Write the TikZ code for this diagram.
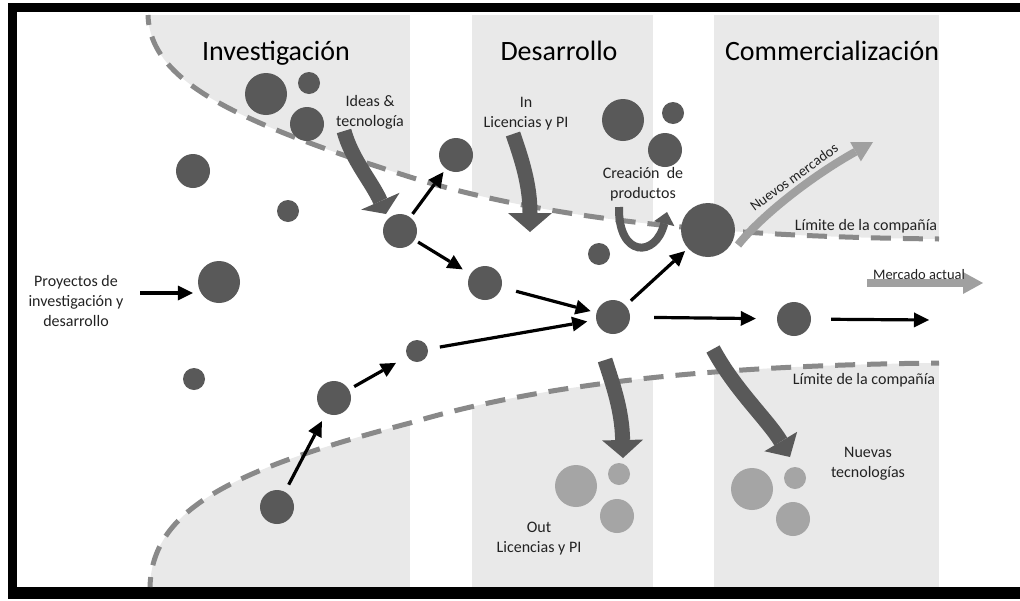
\documentclass[tikz,border=0pt]{standalone}
\usepackage{fontspec}
\setmainfont{Carlito}
\usetikzlibrary{arrows.meta}

\definecolor{colfill}{HTML}{E9E9E9}
\definecolor{dot}{HTML}{595959}
\definecolor{dotlight}{HTML}{A5A5A5}
\definecolor{boundary}{HTML}{898989}
\definecolor{txt}{HTML}{222222}
\definecolor{market}{HTML}{A0A0A0}

\begin{document}
\begin{tikzpicture}[x=1pt,y=-1pt,
  dotnode/.style={circle,fill=dot,inner sep=0pt,minimum size=#1},
  lightdot/.style={circle,fill=dotlight,inner sep=0pt,minimum size=#1},
  flow/.style={line width=3.2pt,black,-{Triangle[length=15pt,width=15pt,line width=0pt]}},
  bigarrow/.style={line width=15pt,dot},
  thinarrow/.style={line width=8pt,color=#1},
  limit/.style={boundary,line width=5pt,dash pattern=on 20pt off 12pt},
  title/.style={font=\fontsize{28}{32}\selectfont,anchor=base},
  label/.style={font=\fontsize{16}{20}\selectfont,text=txt,align=center,inner sep=1pt},
  small/.style={font=\fontsize{14.5}{17}\selectfont,text=txt,inner sep=1pt}
]
\useasboundingbox (0,0) rectangle (1020,600);

% outer frame (open on the right)
\fill[black] (8,3) rectangle (1020,12);
\fill[black] (8,3) rectangle (17,599);
\fill[black] (8,587) rectangle (1020,599);

% shaded phase columns, outside the company boundary only
\begin{scope}
  \clip (148,15) .. controls (150,80) and (230,120) .. (410,177)
        .. controls (560,224) and (750,237) .. (939,239) -- (939,15) -- cycle;
  \fill[colfill] (148,15) rectangle (410,587);
  \fill[colfill] (472,15) rectangle (653,587);
  \fill[colfill] (714,15) rectangle (939,587);
\end{scope}
\begin{scope}
  \clip (150,587) .. controls (152,510) and (230,470) .. (410,423)
        .. controls (560,378) and (750,365) .. (939,363) -- (939,587) -- cycle;
  \fill[colfill] (148,15) rectangle (410,587);
  \fill[colfill] (472,15) rectangle (653,587);
  \fill[colfill] (714,15) rectangle (939,587);
\end{scope}

% company boundary
\draw[limit,dash phase=10pt] (148,15) .. controls (150,80) and (230,120) .. (410,177)
      .. controls (560,224) and (750,237) .. (939,239);
\draw[limit,dash phase=10pt] (150,587) .. controls (152,510) and (230,470) .. (410,423)
      .. controls (560,378) and (750,365) .. (939,363);

% phase titles
\node[title] (tinv) at (276,60) {Investigación};
\node[title] (tdes) at (559,60) {Desarrollo};
\node[title] (tcom) at (832,60) {Commercialización};

% projects
\node[dotnode=42pt] (a1) at (266,94) {};
\node[dotnode=22pt] (a2) at (309,83) {};
\node[dotnode=34pt] (a3) at (307,124) {};
\node[dotnode=34pt] (b1) at (193,171) {};
\node[dotnode=22pt] (b2) at (288,211) {};
\node[dotnode=34pt] (n1) at (400,231) {};
\node[dotnode=34pt] (n2) at (456,155) {};
\node[dotnode=34pt] (n3) at (485,283) {};
\node[dotnode=42pt] (p0) at (219,282) {};
\node[dotnode=42pt] (d1) at (623,120) {};
\node[dotnode=22pt] (d2) at (673,113) {};
\node[dotnode=34pt] (d3) at (665,150) {};
\node[dotnode=22pt] (d4) at (599,254) {};
\node[dotnode=22pt] (b3) at (194,379) {};
\node[dotnode=22pt] (m3) at (417,351) {};
\node[dotnode=34pt] (m2) at (334,398) {};
\node[dotnode=34pt] (m1) at (277,507) {};
\node[dotnode=34pt] (hub) at (613,317) {};
\node[dotnode=34pt] (c1) at (794,319) {};

% licensed-out and new technologies
\node[lightdot=42pt] (o1) at (576,486) {};
\node[lightdot=22pt] (o2) at (619,474) {};
\node[lightdot=34pt] (o3) at (617,516) {};
\node[lightdot=42pt] (t1) at (752,489) {};
\node[lightdot=22pt] (t2) at (795,478) {};
\node[lightdot=34pt] (t3) at (793,519) {};

% broad flows across the boundary
\coordinate (ia) at (344,131);
\coordinate (ib) at (386,214);
\draw[bigarrow,-{Triangle[length=14pt,width=42pt,line width=0pt]}]
  (ia) .. controls (352,160) and (372,182) .. (ib);
\coordinate (la) at (513,134);
\coordinate (lb) at (530,232);
\draw[bigarrow,-{Triangle[length=19pt,width=44pt,line width=0pt]}]
  (la) .. controls (522,160) and (530,185) .. (lb);
\coordinate (oa) at (605,360);
\coordinate (ob) at (623,458);
\draw[bigarrow,-{Triangle[length=18pt,width=41pt,line width=0pt]}]
  (oa) .. controls (613,385) and (622,410) .. (ob);
\coordinate (ta) at (713,349);
\coordinate (tb) at (790,457);
\draw[bigarrow,-{Triangle[length=18pt,width=38pt,line width=0pt]}]
  (ta) .. controls (735,390) and (768,420) .. (tb);
\coordinate (ca) at (619,207);
\coordinate (cb) at (667,212);
\draw[line width=8pt,dot,-{Triangle[length=12pt,width=21pt,line width=0pt]}]
  (ca) .. controls (618,258) and (656,258) .. (cb);

\node[dotnode=54pt] (big) at (708,230) {};

% market arrows
\coordinate (ma) at (738,245);
\coordinate (mb) at (873,142);
\draw[thinarrow=market,-{Triangle[length=20pt,width=22pt,line width=0pt]}]
  (ma) .. controls (762,215) and (812,176) .. (mb);
\coordinate (xa) at (867,283);
\coordinate (xb) at (983,283);
\draw[thinarrow=market,-{Triangle[length=20pt,width=22pt,line width=0pt]}] (xa) -- (xb);

% project flow
\node[label] (proy) at (76,301) {Proyectos de\\investigación y\\desarrollo};
\coordinate (pin) at (140,293);
\draw[flow,shorten >=5pt] (pin) -- (pin -| p0.west);
\draw[flow,shorten <=4pt,shorten >=4pt] (n1) -- (n2);
\draw[flow,shorten <=4pt,shorten >=9pt] (n1) -- (n3);
\draw[flow,shorten <=15pt,shorten >=6pt] (n3) -- (hub);
\draw[flow,shorten <=12pt,shorten >=9pt] (m3) -- (hub);
\draw[flow,shorten <=8pt,shorten >=9pt] (m1) -- (m2);
\draw[flow,shorten <=6pt,shorten >=13pt] (m2) -- (m3);
\draw[flow,shorten <=7pt,shorten >=4pt] (hub) -- (big);
\draw[flow,shorten <=24pt,shorten >=21pt] (hub) -- (c1);
\coordinate (outR) at (929,320);
\draw[flow,shorten <=20pt] (c1) -- (outR);

% labels
\node[label] (lideas) at (370,112) {Ideas \&\\tecnología};
\node[label] (lin) at (526,114) {In\\Licencias y PI};
\node[label] (lcrea) at (643,184) {Creación\ \ de\\productos};
\node[label] (lout) at (539,539) {Out\\Licencias y PI};
\node[label] (lnue) at (868,464) {Nuevas\\tecnologías};
\node[label] (lim1) at (866,226) {Límite de la compañía};
\node[label] (lim2) at (864,380) {Límite de la compañía};
\node[small] (lmerc) at (919,275) {Mercado actual};
\node[small,rotate=36] (lnm) at (794,177) {Nuevos mercados};
\end{tikzpicture}
\end{document}
